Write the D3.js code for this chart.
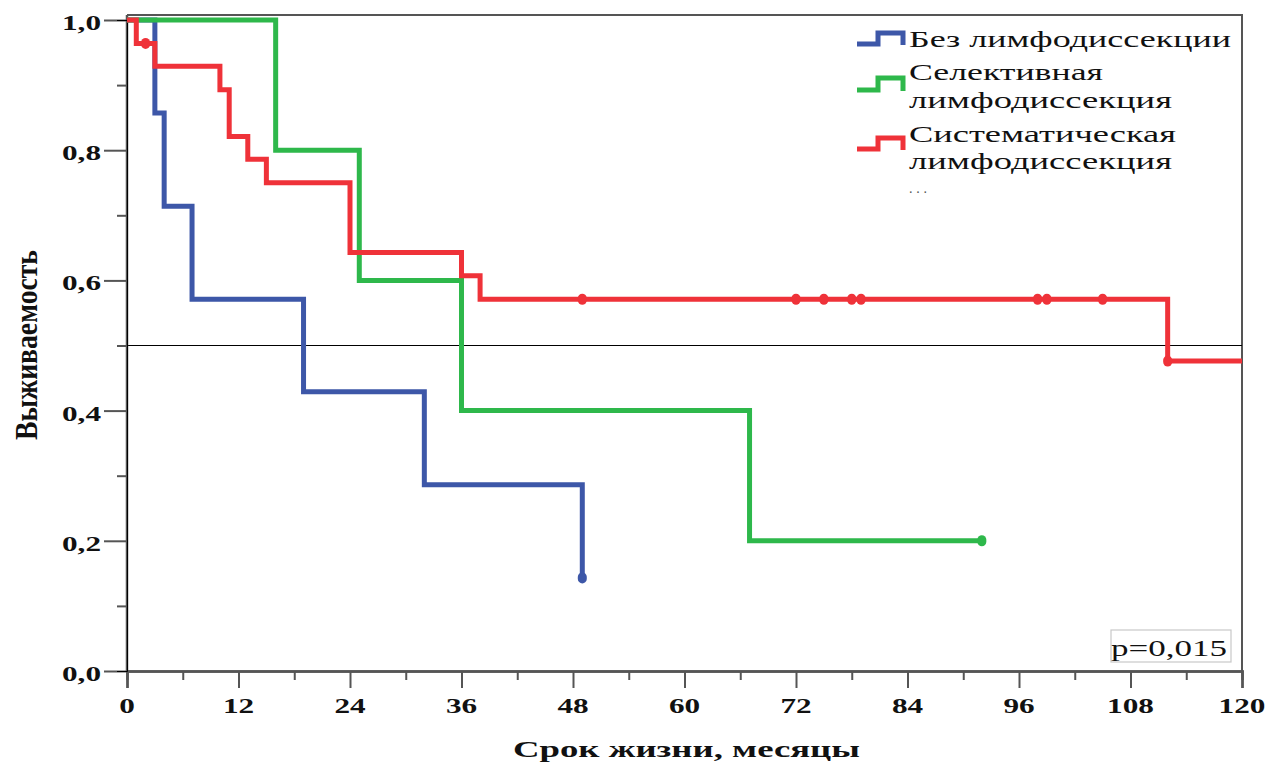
<!DOCTYPE html>
<html>
<head>
<meta charset="utf-8">
<script src="https://cdn.jsdelivr.net/npm/d3@7"></script>
<style>
  html, body { margin: 0; padding: 0; background: #fff; }
  svg { display: block; }
</style>
</head>
<body>
<svg id="chart" width="1271" height="762"></svg>
<script>
// ---- data ----
const seriesNames = ["Без лимфодиссекции", "Селективная лимфодиссекция", "Систематическая лимфодиссекция"];
const legendLines = [["Без лимфодиссекции"], ["Селективная", "лимфодиссекция"], ["Систематическая", "лимфодиссекция"]];

const blueTimes = [0, 3, 4, 7, 19, 32, 49];
const blueSurv  = [1, 0.857, 0.714, 0.571, 0.429, 0.286, 0.143];
const blueCensor = [49];
const blueEnd = 49;

const greenTimes = [0, 16, 25, 36, 67];
const greenSurv  = [1, 0.8, 0.6, 0.4, 0.2];
const greenCensor = [92];
const greenEnd = 92;

const redTimes = [0, 1, 3, 10, 11, 13, 15, 24, 36, 38, 112];
const redSurv  = [1, 0.964, 0.929, 0.893, 0.821, 0.786, 0.75, 0.643, 0.607, 0.571, 0.476];
const redCensor = [2, 49, 72, 75, 78, 79, 98, 99, 105, 112];
const redEnd = 120;

const xTicks = [0, 12, 24, 36, 48, 60, 72, 84, 96, 108, 120];
const xMinorTicks = [6, 18, 30, 42, 54, 66, 78, 90, 102, 114];
const yTicks = [0, 0.2, 0.4, 0.6, 0.8, 1.0];
const yTickLabels = ["0,0", "0,2", "0,4", "0,6", "0,8", "1,0"];
const yMinorTicks = [0.1, 0.3, 0.5, 0.7, 0.9];
const refLine = 0.5;
const pText = "p=0,015";
const xTitle = "Срок жизни, месяцы";
const yTitle = "Выживаемость";

const colors = ["#3d57a8", "#2eb84b", "#ef3239"];

// ---- layout ----
const svg = d3.select("#chart");
const x = d3.scaleLinear().domain([0, 120]).range([127, 1242]);
const y = d3.scaleLinear().domain([0, 1]).range([671, 20]);
const frameTop = 15;
const serif = "'Liberation Serif', 'Times New Roman', serif";
const axisColor = "#555";

function survPoints(times, surv, end) {
  const pts = [];
  for (let i = 0; i < times.length; i++) {
    if (i > 0) pts.push([times[i], surv[i - 1]]);
    pts.push([times[i], surv[i]]);
  }
  pts.push([end, surv[surv.length - 1]]);
  return pts;
}
function survAt(times, surv, t) {
  let v = surv[0];
  for (let i = 0; i < times.length; i++) if (times[i] <= t) v = surv[i];
  return v;
}

// frame (top + right)
svg.append("path")
  .attr("d", `M${x(0)},${frameTop} H${x(120)} V${y(0)}`)
  .attr("fill", "none").attr("stroke", axisColor).attr("stroke-width", 2);

// reference line at 0.5
svg.append("line")
  .attr("x1", x(0)).attr("x2", x(120))
  .attr("y1", y(refLine)).attr("y2", y(refLine))
  .attr("stroke", "#000").attr("stroke-width", 1.2);

// axes
const gx = svg.append("g").attr("transform", `translate(0,${y(0)})`);
gx.call(d3.axisBottom(x).tickValues(xTicks).tickSize(17).tickFormat(""));
gx.append("g").call(d3.axisBottom(x).tickValues(xMinorTicks).tickSize(9).tickFormat(""));
gx.selectAll("path.domain").attr("stroke", axisColor).attr("stroke-width", 2.5);
gx.selectAll(".tick line").attr("stroke", axisColor).attr("stroke-width", 2);
gx.select("g").select("path.domain").remove();

const gy = svg.append("g").attr("transform", `translate(${x(0)},0)`);
gy.call(d3.axisLeft(y).tickValues(yTicks).tickSize(23).tickFormat(""));
gy.append("g").call(d3.axisLeft(y).tickValues(yMinorTicks).tickSize(10).tickFormat(""));
gy.select("g").select("path.domain").remove();
gy.select("path.domain").attr("d", `M0,${frameTop}V${y(0)}`).attr("stroke", axisColor).attr("stroke-width", 2.5);
gy.selectAll(".tick line").attr("stroke", axisColor).attr("stroke-width", 2);

// tick labels (stretched horizontally like the reference)
const sx = 1.42;
xTicks.forEach(t => {
  svg.append("text")
    .attr("transform", `translate(${x(t)},713) scale(${sx},1)`)
    .attr("text-anchor", "middle")
    .attr("font-family", serif).attr("font-weight", "bold").attr("font-size", 22)
    .attr("fill", "#111").text(t);
});
yTicks.forEach((t, i) => {
  svg.append("text")
    .attr("transform", `translate(101,${y(t) + 10}) scale(${sx},1)`)
    .attr("text-anchor", "end")
    .attr("font-family", serif).attr("font-weight", "bold").attr("font-size", 22)
    .attr("fill", "#111").text(yTickLabels[i]);
});

// axis titles
svg.append("text")
  .attr("x", 513).attr("y", 757)
  .attr("textLength", 347).attr("lengthAdjust", "spacingAndGlyphs")
  .attr("font-family", serif).attr("font-weight", "bold").attr("font-size", 23)
  .attr("fill", "#111").text(xTitle);
svg.append("text")
  .attr("transform", `translate(37,440) rotate(-90)`)
  .attr("textLength", 190).attr("lengthAdjust", "spacingAndGlyphs")
  .attr("font-family", serif).attr("font-weight", "bold").attr("font-size", 31)
  .attr("fill", "#111").text(yTitle);

// curves
const line = d3.line().x(d => x(d[0])).y(d => y(d[1]));
const curves = [
  {times: blueTimes, surv: blueSurv, censor: blueCensor, end: blueEnd, color: colors[0]},
  {times: greenTimes, surv: greenSurv, censor: greenCensor, end: greenEnd, color: colors[1]},
  {times: redTimes, surv: redSurv, censor: redCensor, end: redEnd, color: colors[2]},
];
curves.forEach(c => {
  svg.append("path")
    .attr("d", line(survPoints(c.times, c.surv, c.end)))
    .attr("fill", "none").attr("stroke", c.color).attr("stroke-width", 5);
  c.censor.forEach(t => {
    svg.append("rect")
      .attr("x", x(t) - 4.5).attr("y", y(survAt(c.times, c.surv, t)) - 5.5)
      .attr("width", 9).attr("height", 11).attr("rx", 4.5)
      .attr("fill", c.color);
  });
});

// legend
const legendIcon = [{low: 44, top: 33}, {low: 90, top: 78}, {low: 149, top: 138}];
const legendBase = [[47], [80, 108], [142, 169]];
const legendWidths = [[322], [194], [267]];
legendLines.forEach((lines, i) => {
  const ic = legendIcon[i];
  svg.append("path")
    .attr("d", `M857,${ic.low} H878 V${ic.top} H903 V${ic.low + 1}`)
    .attr("fill", "none").attr("stroke", colors[i]).attr("stroke-width", 5);
  lines.forEach((s, j) => {
    const w = (j === 0) ? legendWidths[i][0] : 263;
    svg.append("text")
      .attr("x", 909).attr("y", legendBase[i][j])
      .attr("textLength", w).attr("lengthAdjust", "spacingAndGlyphs")
      .attr("font-family", serif).attr("font-size", 23)
      .attr("fill", "#111").text(s);
  });
});
svg.append("text")
  .attr("x", 909).attr("y", 193)
  .attr("textLength", 18).attr("lengthAdjust", "spacing")
  .attr("font-family", serif).attr("font-size", 14)
  .attr("fill", "#555").text("...");

// p-value box
svg.append("rect")
  .attr("x", 1111).attr("y", 630).attr("width", 120).attr("height", 32)
  .attr("fill", "#fff").attr("stroke", "#c8c8c8").attr("stroke-width", 1.2);
svg.append("text")
  .attr("x", 1111).attr("y", 656)
  .attr("textLength", 116).attr("lengthAdjust", "spacingAndGlyphs")
  .attr("font-family", serif).attr("font-size", 24)
  .attr("fill", "#111").text(pText);
</script>
</body>
</html>
